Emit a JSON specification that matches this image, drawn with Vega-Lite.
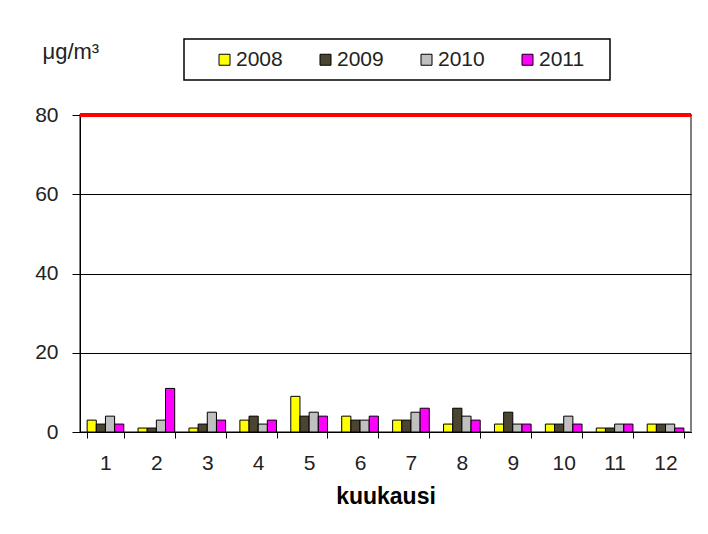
{
  "$schema": "https://vega.github.io/schema/vega-lite/v6.json",
  "width": 611,
  "height": 317,
  "autosize": {"type": "none"},
  "padding": {"left": 80, "top": 115, "right": 17, "bottom": 102},
  "background": "white",
  "config": {
    "font": "Liberation Sans",
    "view": {"stroke": "#808080", "strokeWidth": 2},
    "legend": {"strokeColor": "black", "strokeWidth": 1.5, "fillColor": "white"}
  },
  "data": {
    "values": [
      {"month": 1, "year": "2008", "value": 3}, {"month": 1, "year": "2009", "value": 2}, {"month": 1, "year": "2010", "value": 4}, {"month": 1, "year": "2011", "value": 2},
      {"month": 2, "year": "2008", "value": 1}, {"month": 2, "year": "2009", "value": 1}, {"month": 2, "year": "2010", "value": 3}, {"month": 2, "year": "2011", "value": 11},
      {"month": 3, "year": "2008", "value": 1}, {"month": 3, "year": "2009", "value": 2}, {"month": 3, "year": "2010", "value": 5}, {"month": 3, "year": "2011", "value": 3},
      {"month": 4, "year": "2008", "value": 3}, {"month": 4, "year": "2009", "value": 4}, {"month": 4, "year": "2010", "value": 2}, {"month": 4, "year": "2011", "value": 3},
      {"month": 5, "year": "2008", "value": 9}, {"month": 5, "year": "2009", "value": 4}, {"month": 5, "year": "2010", "value": 5}, {"month": 5, "year": "2011", "value": 4},
      {"month": 6, "year": "2008", "value": 4}, {"month": 6, "year": "2009", "value": 3}, {"month": 6, "year": "2010", "value": 3}, {"month": 6, "year": "2011", "value": 4},
      {"month": 7, "year": "2008", "value": 3}, {"month": 7, "year": "2009", "value": 3}, {"month": 7, "year": "2010", "value": 5}, {"month": 7, "year": "2011", "value": 6},
      {"month": 8, "year": "2008", "value": 2}, {"month": 8, "year": "2009", "value": 6}, {"month": 8, "year": "2010", "value": 4}, {"month": 8, "year": "2011", "value": 3},
      {"month": 9, "year": "2008", "value": 2}, {"month": 9, "year": "2009", "value": 5}, {"month": 9, "year": "2010", "value": 2}, {"month": 9, "year": "2011", "value": 2},
      {"month": 10, "year": "2008", "value": 2}, {"month": 10, "year": "2009", "value": 2}, {"month": 10, "year": "2010", "value": 4}, {"month": 10, "year": "2011", "value": 2},
      {"month": 11, "year": "2008", "value": 1}, {"month": 11, "year": "2009", "value": 1}, {"month": 11, "year": "2010", "value": 2}, {"month": 11, "year": "2011", "value": 2},
      {"month": 12, "year": "2008", "value": 2}, {"month": 12, "year": "2009", "value": 2}, {"month": 12, "year": "2010", "value": 2}, {"month": 12, "year": "2011", "value": 1}
    ]
  },
  "layer": [
    {
      "mark": {"type": "bar", "stroke": "black", "strokeWidth": 1},
      "encoding": {
        "x": {
          "field": "month",
          "type": "ordinal",
          "scale": {"paddingInner": 0.28, "paddingOuter": 0.14},
          "axis": {
            "title": "kuukausi",
            "titleFontSize": 23,
            "titleFontWeight": "bold",
            "titleColor": "black",
            "titlePadding": 12,
            "labelAngle": 0,
            "labelFontSize": 21,
            "labelColor": "#222222",
            "labelPadding": 14,
            "tickBand": "extent",
            "tickSize": 6,
            "tickColor": "black",
            "domainColor": "black",
            "grid": false
          }
        },
        "xOffset": {"field": "year", "type": "nominal", "sort": ["2008", "2009", "2010", "2011"]},
        "y": {
          "field": "value",
          "type": "quantitative",
          "scale": {"domain": [0, 80]},
          "axis": {
            "title": "μg/m³",
            "titleAngle": 0,
            "titleAlign": "left",
            "titleBaseline": "alphabetic",
            "titleX": -38,
            "titleY": -57,
            "titleFontSize": 22,
            "titleFontWeight": "normal",
            "titleColor": "#222222",
            "values": [0, 20, 40, 60, 80],
            "grid": true,
            "gridColor": "black",
            "gridWidth": 1,
            "gridOpacity": 1,
            "domainColor": "black",
            "tickColor": "black",
            "tickSize": 8,
            "labelFontSize": 21,
            "labelColor": "#222222",
            "labelPadding": 14
          }
        },
        "color": {
          "field": "year",
          "type": "nominal",
          "scale": {"domain": ["2008", "2009", "2010", "2011"], "range": ["#ffff00", "#4b4431", "#c0c0c0", "#ff00ff"]},
          "legend": {
            "orient": "none",
            "legendX": 104,
            "legendY": -76,
            "direction": "horizontal",
            "columns": 4,
            "title": "\u00a0",
            "titleOrient": "right",
            "titlePadding": 16,
            "titleFontSize": 14,
            "padding": 10,
            "symbolType": "square",
            "symbolSize": 121,
            "symbolStrokeColor": "black",
            "symbolStrokeWidth": 1,
            "symbolOffset": 20,
            "labelFontSize": 21,
            "labelColor": "#222222",
            "labelOffset": 1,
            "columnPadding": 12
          }
        }
      }
    },
    {
      "mark": {"type": "rule", "color": "#ff0000", "strokeWidth": 3},
      "encoding": {"y": {"datum": 80}}
    }
  ]
}
